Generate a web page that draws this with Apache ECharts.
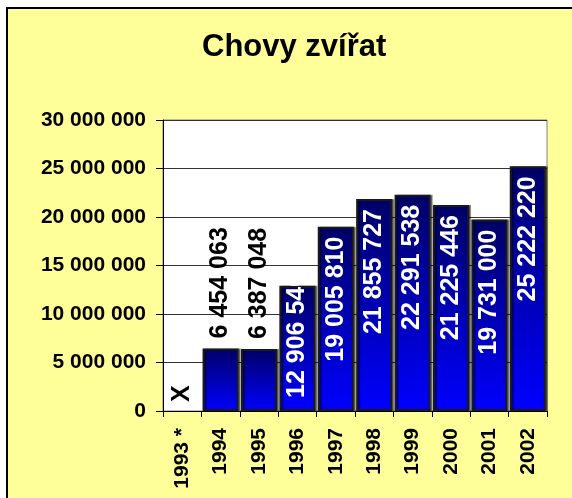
<!DOCTYPE html>
<html>
<head>
<meta charset="utf-8">
<script src="https://cdn.jsdelivr.net/npm/echarts@6/dist/echarts.min.js"></script>
<style>
html,body{margin:0;padding:0;background:#fff;}
#chart{width:572px;height:498px;}
</style>
</head>
<body>
<div id="chart"></div>
<script>
var titleText = 'Chovy zvířat';
var years = ['1993 *', '1994', '1995', '1996', '1997', '1998', '1999', '2000', '2001', '2002'];
var values = [0, 6454063, 6387048, 12906540, 19005810, 21855727, 22291538, 21225446, 19731000, 25222220];
var missingLabel = 'X';
var yTicks = [0, 5000000, 10000000, 15000000, 20000000, 25000000, 30000000];

function fmt(v) {
  return String(v).replace(/\B(?=(\d{3})+(?!\d))/g, ' ');
}

var FONT = "'Liberation Sans', Arial, sans-serif";

var barData = values.map(function (v, i) {
  var item = { value: v };
  var lbl = {
    show: true, rotate: 90, verticalAlign: 'middle',
    fontFamily: FONT, fontWeight: 'bold', fontSize: 25
  };
  if (i === 0) {
    lbl.position = 'insideBottom'; lbl.align = 'left'; lbl.distance = 9;
    lbl.color = '#000'; lbl.formatter = missingLabel;
    item.itemStyle = { borderWidth: 0, shadowBlur: 0, shadowOffsetX: 0 };
  } else if (v < 10000000) {
    lbl.position = 'top'; lbl.align = 'left'; lbl.distance = 10; lbl.color = '#000';
  } else if (v < 15000000) {
    lbl.position = 'insideBottom'; lbl.align = 'left'; lbl.distance = 13; lbl.color = '#fff';
  } else {
    lbl.position = 'insideTop'; lbl.align = 'right'; lbl.distance = 10; lbl.color = '#fff';
  }
  item.label = lbl;
  return item;
});

var chart = echarts.init(document.getElementById('chart'), null, { renderer: 'canvas' });
chart.setOption({
  animation: false,
  backgroundColor: '#ffffff',
  graphic: [{
    type: 'rect', z: -10, silent: true,
    shape: { x: 7, y: 8, width: 600, height: 520 },
    style: { fill: '#FFFF99', stroke: '#000', lineWidth: 2 }
  }],
  title: {
    text: titleText,
    left: 197, top: 27,
    textStyle: { fontFamily: FONT, fontWeight: 'bold', fontSize: 31, color: '#000' }
  },
  grid: {
    left: 163, right: 25, top: 120, bottom: 87,
    show: true, backgroundColor: '#ffffff', borderColor: '#808080', borderWidth: 1
  },
  xAxis: {
    type: 'category',
    data: years,
    axisLine: { lineStyle: { color: '#000', width: 1 } },
    axisTick: { show: true, length: 6, lineStyle: { color: '#000' } },
    axisLabel: {
      rotate: 90, margin: 17, color: '#000',
      fontFamily: FONT, fontWeight: 'bold', fontSize: 21
    },
    splitLine: { show: false }
  },
  yAxis: {
    type: 'value',
    min: yTicks[0], max: yTicks[yTicks.length - 1], interval: yTicks[1] - yTicks[0],
    axisLine: { show: true, lineStyle: { color: '#000', width: 1 } },
    axisTick: { show: true, length: 7, lineStyle: { color: '#000' } },
    axisLabel: {
      margin: 17, color: '#000', formatter: function (v) { return fmt(v); },
      fontFamily: FONT, fontWeight: 'bold', fontSize: 21
    },
    splitLine: { show: true, lineStyle: { color: '#333', width: 1 } }
  },
  series: [{
    type: 'bar',
    data: barData,
    barCategoryGap: '6%',
    label: { formatter: function (p) { return fmt(p.value); } },
    itemStyle: {
      color: new echarts.graphic.LinearGradient(0, 0, 0, 1, [
        { offset: 0, color: '#000066' },
        { offset: 1, color: '#0000FF' }
      ]),
      borderColor: '#1a1a1a',
      borderWidth: 2,
      shadowColor: 'rgba(0,0,0,0.45)',
      shadowOffsetX: 2,
      shadowOffsetY: 0,
      shadowBlur: 0
    }
  }]
});
</script>
</body>
</html>
